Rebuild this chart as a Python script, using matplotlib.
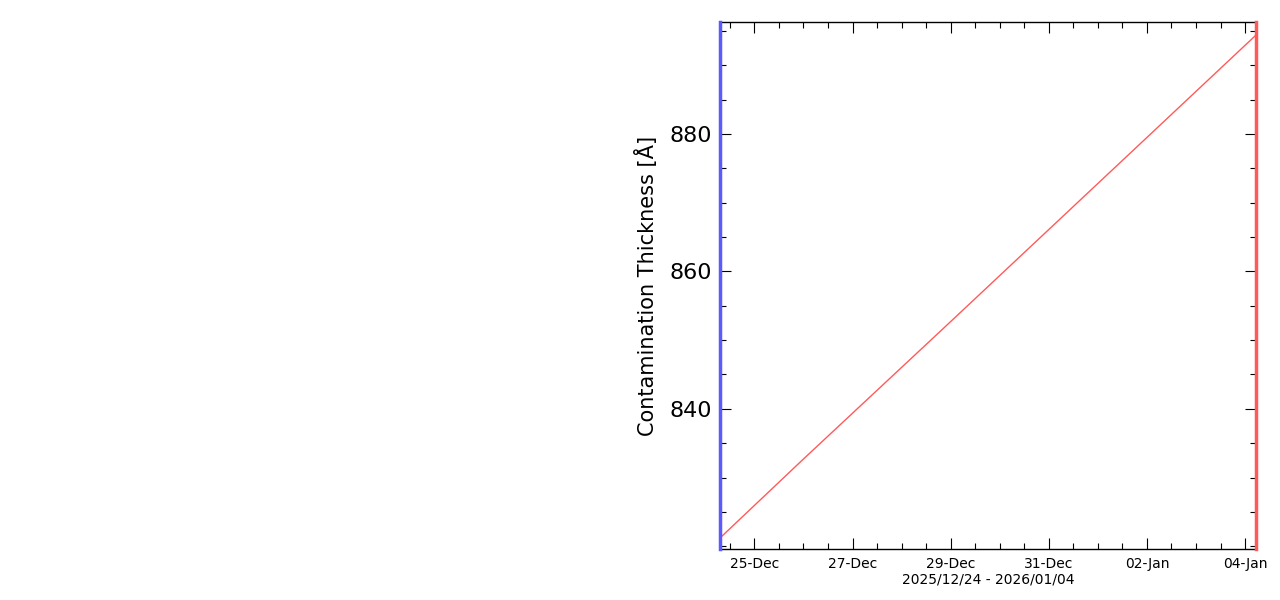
import matplotlib
matplotlib.use("Agg")
import matplotlib.pyplot as plt
import matplotlib.dates as mdates
from matplotlib.ticker import FixedLocator, MultipleLocator
import pandas as pd

# Data
times = ["2025-12-24 07:10", "2025-12-26 00:00", "2025-12-29 00:00",
         "2026-01-02 00:00", "2026-01-04 05:20"]
thickness = [821.2, 832.7, 852.7, 879.5, 894.4]

x_start = "2025-12-24 07:10"
x_end = "2026-01-04 05:20"
y_min, y_max = 819.6, 896.3

xtick_dates = ["2025-12-25", "2025-12-27", "2025-12-29", "2025-12-31",
               "2026-01-02", "2026-01-04"]
xtick_labels = ["25-Dec", "27-Dec", "29-Dec", "31-Dec", "02-Jan", "04-Jan"]
ytick_values = [840, 860, 880]
xlabel_text = "2025/12/24 - 2026/01/04"
ylabel_text = "Contamination Thickness [Å]"

t = mdates.date2num(pd.to_datetime(times))
xs = mdates.date2num(pd.Timestamp(x_start))
xe = mdates.date2num(pd.Timestamp(x_end))

fig = plt.figure(figsize=(12.8, 6.0), dpi=100)
ax = fig.add_axes([720/1280, 51/600, 536/1280, 527/600])

ax.plot(t, thickness, color="#ff5a5a", lw=1.0)
ax.axvline(xs, color="#5a5aff", lw=2.5, clip_on=False, zorder=5)
ax.axvline(xe, color="#ff5a5a", lw=2.5, clip_on=False, zorder=5)

ax.set_xlim(xs, xe)
ax.set_ylim(y_min, y_max)

ax.xaxis.set_major_locator(FixedLocator(mdates.date2num(pd.to_datetime(xtick_dates))))
ax.set_xticklabels(xtick_labels)
ax.xaxis.set_minor_locator(MultipleLocator(0.5))
ax.yaxis.set_major_locator(FixedLocator(ytick_values))
ax.yaxis.set_minor_locator(MultipleLocator(5))

ax.tick_params(which="both", direction="in", top=True, right=True, width=0.8, color="black")
ax.tick_params(which="major", length=8)
ax.tick_params(which="minor", length=4.5)
ax.tick_params(axis="x", labelsize=10, pad=6)
ax.tick_params(axis="y", labelsize=16, pad=6)

for s in ax.spines.values():
    s.set_linewidth(1.0)

ax.set_xlabel(xlabel_text, fontsize=10, labelpad=1)
ax.set_ylabel(ylabel_text, fontsize=15, labelpad=8)

fig.savefig("out.png", dpi=100)
